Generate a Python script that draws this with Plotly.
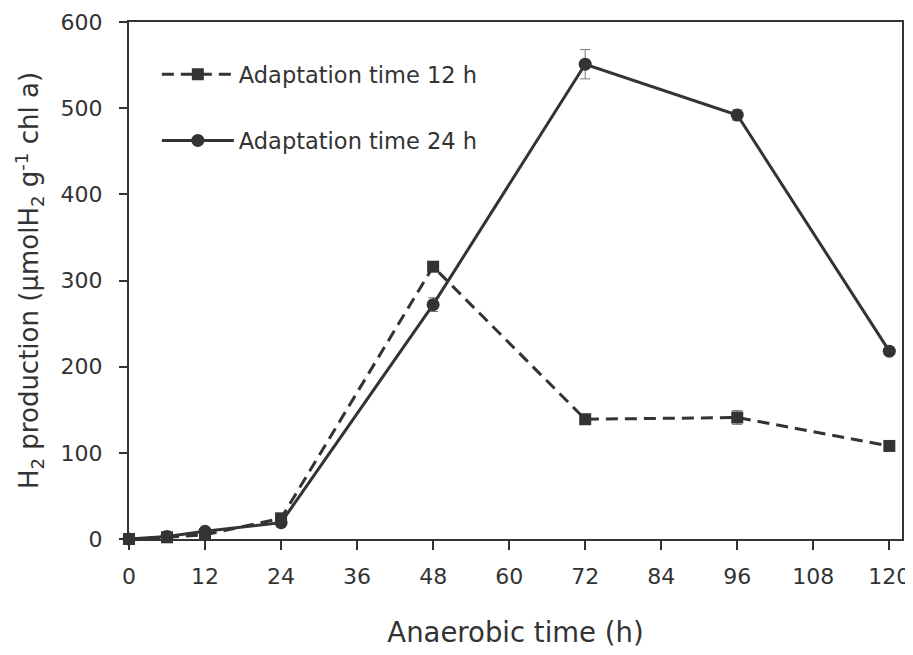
import plotly.graph_objects as go

time_h = [0, 6, 12, 24, 48, 72, 96, 120]
h2_12h = [0, 2, 5, 24, 316, 139, 141, 108]
err_12h = [1, 1, 1, 3, 5, 5, 8, 3]
h2_24h = [0, 3, 9, 19, 272, 551, 492, 218]
err_24h = [1, 1, 1, 2, 8, 17, 6, 3]
x_ticks = [0, 12, 24, 36, 48, 60, 72, 84, 96, 108, 120]
y_ticks = [0, 100, 200, 300, 400, 500, 600]

ink = "#333333"
font = "DejaVu Sans"

fig = go.Figure()
fig.add_trace(go.Scatter(
    x=time_h, y=h2_12h, name="Adaptation time 12 h", legendgroup="a",
    mode="lines+markers",
    line=dict(color=ink, width=3, dash="12px,7px"),
    marker=dict(symbol="square", size=12, color=ink),
    error_y=dict(type="data", array=err_12h, color="#777777", thickness=1, width=5),
    cliponaxis=False,
))
fig.add_trace(go.Scatter(
    x=time_h, y=h2_24h, name="Adaptation time 24 h", legendgroup="b",
    mode="lines+markers",
    line=dict(color=ink, width=3),
    marker=dict(symbol="circle", size=13, color=ink),
    error_y=dict(type="data", array=err_24h, color="#777777", thickness=1, width=5),
    cliponaxis=False,
))

fig.update_layout(
    width=905, height=647,
    margin=dict(l=121, r=11, t=14, b=116),
    paper_bgcolor="white", plot_bgcolor="white",
    font=dict(family=font, color=ink, size=22),
    showlegend=True,
    legend=dict(x=0.036, y=0.94, xanchor="left", yanchor="top",
                bgcolor="rgba(0,0,0,0)", font=dict(size=22.5, color=ink),
                tracegroupgap=34, itemwidth=72),
    xaxis=dict(range=[0, 122], tickvals=x_ticks, ticktext=[str(v) for v in x_ticks],
               ticks="outside", ticklen=9, tickwidth=1.5, tickcolor=ink,
               ticklabelstandoff=8,
               showline=True, linecolor=ink, linewidth=2, mirror=True,
               showgrid=False, zeroline=False, automargin=False,
               title=dict(text="Anaerobic time (h)", font=dict(size=27.5), standoff=34)),
    yaxis=dict(range=[0, 600], tickvals=y_ticks, ticktext=[str(v) for v in y_ticks],
               ticks="outside", ticklen=8, tickwidth=1.5, tickcolor=ink,
               ticklabelstandoff=12,
               showline=True, linecolor=ink, linewidth=2, mirror=True,
               showgrid=False, zeroline=False, automargin=False,
               title=dict(text="H<sub>2</sub> production (μmolH<sub>2</sub> g<sup>-1</sup> chl a)",
                          font=dict(size=26), standoff=14)),
)

fig.write_html("out.html")
